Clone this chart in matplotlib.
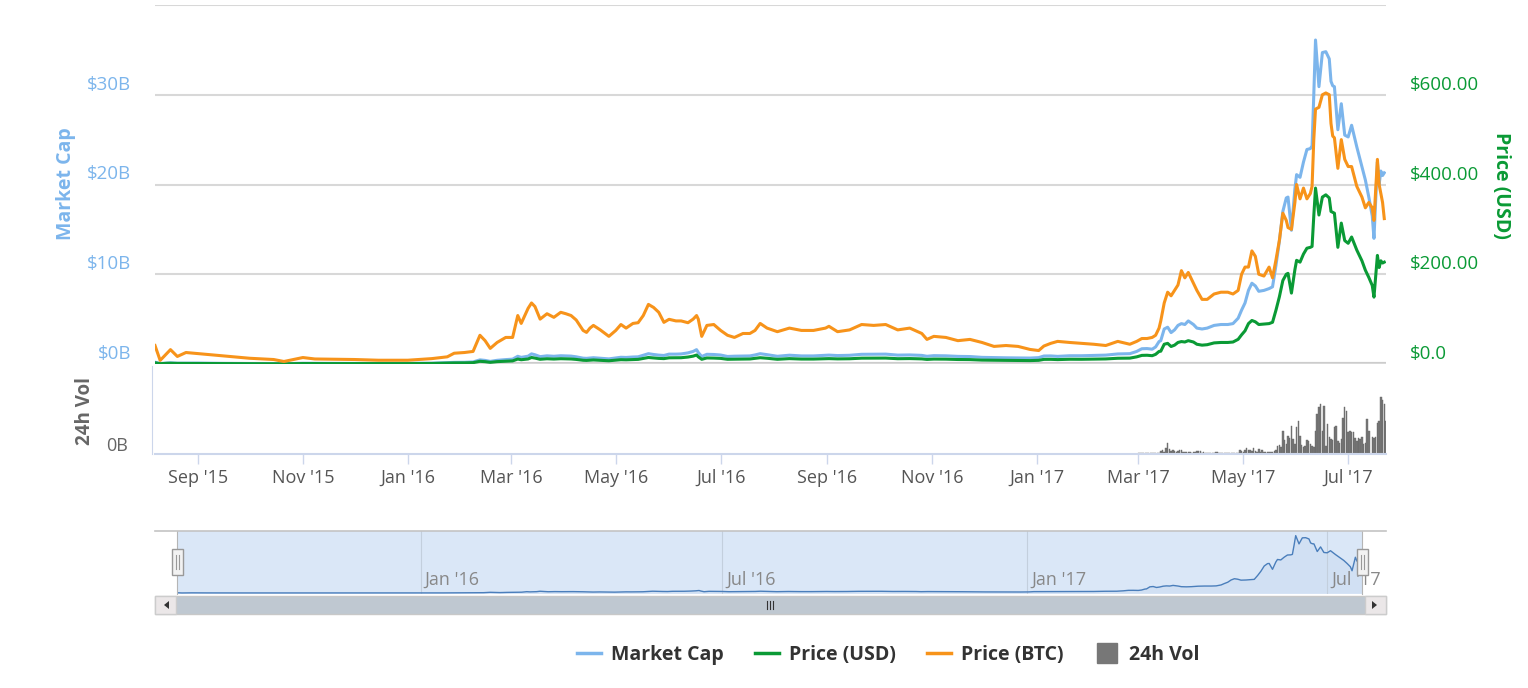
import numpy as np
import pandas as pd
import matplotlib
matplotlib.use("Agg")
import matplotlib.pyplot as plt
import matplotlib.dates as mdates
from matplotlib.lines import Line2D
from matplotlib.patches import Rectangle, Polygon
from matplotlib.transforms import ScaledTranslation

plt.rcParams['font.family'] = ['Open Sans', 'DejaVu Sans']

# ---- data (ETH, Aug 2015 - Jul 2017) ----
dates = [
    "2015-08-07", "2015-08-10", "2015-08-14", "2015-08-16", "2015-08-20", "2015-08-25",
    "2015-09-01", "2015-09-15", "2015-10-01", "2015-10-15", "2015-10-21", "2015-11-01",
    "2015-11-08", "2015-11-15", "2015-12-01", "2015-12-15", "2016-01-01", "2016-01-15",
    "2016-01-24", "2016-01-28", "2016-02-03", "2016-02-08", "2016-02-12", "2016-02-15",
    "2016-02-18", "2016-02-22", "2016-02-27", "2016-03-02", "2016-03-05", "2016-03-07",
    "2016-03-11", "2016-03-13", "2016-03-15", "2016-03-18", "2016-03-22", "2016-03-26",
    "2016-03-30", "2016-04-02", "2016-04-05", "2016-04-08", "2016-04-12", "2016-04-14",
    "2016-04-16", "2016-04-18", "2016-04-22", "2016-04-27", "2016-05-01", "2016-05-04",
    "2016-05-07", "2016-05-11", "2016-05-14", "2016-05-17", "2016-05-20", "2016-05-23",
    "2016-05-26", "2016-05-29", "2016-06-01", "2016-06-05", "2016-06-08", "2016-06-12",
    "2016-06-15", "2016-06-17", "2016-06-18", "2016-06-20", "2016-06-23", "2016-06-27",
    "2016-07-01", "2016-07-05", "2016-07-09", "2016-07-14", "2016-07-18", "2016-07-21",
    "2016-07-24", "2016-07-28", "2016-08-03", "2016-08-10", "2016-08-17", "2016-08-24",
    "2016-08-31", "2016-09-02", "2016-09-07", "2016-09-14", "2016-09-21", "2016-09-28",
    "2016-10-05", "2016-10-12", "2016-10-19", "2016-10-26", "2016-10-29", "2016-11-02",
    "2016-11-09", "2016-11-16", "2016-11-23", "2016-11-30", "2016-12-07", "2016-12-14",
    "2016-12-21", "2016-12-28", "2017-01-02", "2017-01-05", "2017-01-09", "2017-01-13",
    "2017-01-20", "2017-01-27", "2017-02-03", "2017-02-10", "2017-02-17", "2017-02-24",
    "2017-02-28", "2017-03-03", "2017-03-06", "2017-03-09", "2017-03-11", "2017-03-13",
    "2017-03-14", "2017-03-16", "2017-03-18", "2017-03-20", "2017-03-22", "2017-03-24",
    "2017-03-26", "2017-03-28", "2017-03-30", "2017-04-02", "2017-04-04", "2017-04-07",
    "2017-04-10", "2017-04-14", "2017-04-18", "2017-04-22", "2017-04-25", "2017-04-28",
    "2017-04-30", "2017-05-02", "2017-05-04", "2017-05-06", "2017-05-08", "2017-05-10",
    "2017-05-13", "2017-05-16", "2017-05-18", "2017-05-20", "2017-05-22", "2017-05-24",
    "2017-05-26", "2017-05-27", "2017-05-29", "2017-05-31", "2017-06-01", "2017-06-03",
    "2017-06-05", "2017-06-07", "2017-06-09", "2017-06-10", "2017-06-11", "2017-06-12",
    "2017-06-14", "2017-06-16", "2017-06-18", "2017-06-20", "2017-06-21", "2017-06-22",
    "2017-06-23", "2017-06-25", "2017-06-27", "2017-06-29", "2017-07-01", "2017-07-03",
    "2017-07-06", "2017-07-09", "2017-07-11", "2017-07-13", "2017-07-15", "2017-07-16",
    "2017-07-18", "2017-07-19", "2017-07-20", "2017-07-21", "2017-07-22",
]

# market cap, billions of USD
market_cap = [
    0.20, 0.05, 0.11, 0.13, 0.09, 0.09,
    0.10, 0.07, 0.05, 0.04, 0.03, 0.08,
    0.07, 0.07, 0.06, 0.07, 0.07, 0.09,
    0.16, 0.18, 0.19, 0.23, 0.46, 0.40,
    0.29, 0.41, 0.49, 0.54, 0.86, 0.74,
    0.87, 1.13, 1.03, 0.82, 0.91, 0.86,
    0.92, 0.90, 0.88, 0.80, 0.65, 0.63,
    0.66, 0.70, 0.64, 0.57, 0.67, 0.75,
    0.73, 0.78, 0.80, 0.98, 1.15, 1.06,
    0.99, 0.95, 1.10, 1.10, 1.12, 1.24,
    1.40, 1.60, 1.28, 0.84, 1.08, 1.06,
    1.00, 0.84, 0.87, 0.89, 0.90, 1.01,
    1.15, 1.04, 0.86, 0.98, 0.90, 0.90,
    0.97, 0.99, 0.94, 0.97, 1.08, 1.09,
    1.10, 0.99, 1.01, 0.96, 0.86, 0.93,
    0.91, 0.85, 0.83, 0.74, 0.71, 0.69,
    0.68, 0.66, 0.71, 0.89, 0.90, 0.85,
    0.92, 0.92, 0.96, 0.99, 1.12, 1.15,
    1.40, 1.70, 1.72, 1.65, 1.90, 2.50,
    2.60, 3.90, 4.10, 3.50, 3.80, 4.30,
    4.50, 4.40, 4.80, 4.40, 4.00, 3.90,
    4.00, 4.30, 4.40, 4.40, 4.50, 5.10,
    6.00, 6.80, 8.20, 9.00, 8.70, 8.10,
    8.20, 8.40, 8.60, 11.0, 13.7, 17.0,
    18.5, 18.6, 14.9, 19.5, 21.1, 20.8,
    22.5, 23.9, 24.0, 24.3, 30.0, 36.1,
    30.9, 34.7, 34.8, 34.0, 31.5, 31.0,
    30.9, 26.1, 29.0, 25.5, 25.3, 26.6,
    24.2, 22.0, 20.5, 18.6, 16.5, 14.0,
    22.5, 20.0, 21.5, 21.0, 21.3,
]

# price in USD
price_usd = [
    2.77, 0.70, 1.55, 1.70, 1.30, 1.25,
    1.35, 0.95, 0.73, 0.55, 0.43, 1.05,
    0.95, 0.90, 0.87, 0.93, 0.95, 1.20,
    2.10, 2.40, 2.50, 3.00, 6.00, 5.20,
    3.70, 5.30, 6.30, 6.90, 11.0, 9.50,
    11.2, 14.5, 13.2, 10.5, 11.7, 11.0,
    11.8, 11.6, 11.2, 10.2, 8.30, 8.00,
    8.40, 9.00, 8.20, 7.20, 8.50, 9.60,
    9.30, 10.0, 10.3, 12.5, 14.5, 13.5,
    12.5, 12.0, 13.8, 13.8, 14.0, 15.5,
    17.5, 20.0, 16.0, 10.5, 13.5, 13.2,
    12.5, 10.5, 10.8, 11.0, 11.2, 12.5,
    14.0, 12.8, 10.5, 12.0, 11.0, 11.0,
    11.8, 12.0, 11.4, 11.7, 13.0, 13.1,
    13.2, 11.8, 12.1, 11.4, 10.2, 11.0,
    10.8, 10.0, 9.80, 8.70, 8.30, 8.10,
    7.90, 7.60, 8.20, 10.3, 10.4, 9.80,
    10.6, 10.5, 11.0, 11.3, 12.8, 13.1,
    15.9, 19.2, 19.5, 18.5, 21.5, 28.0,
    28.5, 44.0, 46.0, 39.0, 42.0, 48.0,
    50.0, 49.0, 52.0, 49.0, 44.0, 42.0,
    43.0, 47.0, 48.0, 48.0, 49.0, 55.0,
    65.0, 74.0, 90.0, 97.0, 94.0, 88.0,
    89.0, 90.0, 93.0, 120, 150, 186,
    200, 202, 158, 210, 231, 227,
    245, 258, 260, 262, 330, 392,
    332, 372, 377, 370, 340, 338,
    336, 260, 314, 275, 269, 283,
    254, 230, 209, 193, 175, 149,
    242, 215, 230, 225, 227,
]

# price in BTC
price_btc = [
    0.0103, 0.0020, 0.0060, 0.0080, 0.0042, 0.0064,
    0.0058, 0.0046, 0.0032, 0.0025, 0.0014, 0.0036,
    0.0028, 0.0027, 0.0025, 0.0021, 0.0021, 0.0030,
    0.0040, 0.0060, 0.0064, 0.0070, 0.0160, 0.0130,
    0.0087, 0.0120, 0.0148, 0.0148, 0.0270, 0.0226,
    0.0310, 0.0340, 0.0320, 0.0250, 0.0280, 0.0260,
    0.0288, 0.0280, 0.0270, 0.0245, 0.0187, 0.0176,
    0.0200, 0.0215, 0.0190, 0.0154, 0.0187, 0.0220,
    0.0200, 0.0226, 0.0230, 0.0270, 0.0332, 0.0315,
    0.0288, 0.0232, 0.0249, 0.0240, 0.0240, 0.0230,
    0.0250, 0.0270, 0.0250, 0.0154, 0.0215, 0.0220,
    0.0187, 0.0160, 0.0148, 0.0170, 0.0170, 0.0187,
    0.0226, 0.0200, 0.0180, 0.0200, 0.0187, 0.0187,
    0.0200, 0.0210, 0.0180, 0.0190, 0.0220, 0.0215,
    0.0220, 0.0190, 0.0200, 0.0170, 0.0137, 0.0154,
    0.0148, 0.0130, 0.0137, 0.0120, 0.0098, 0.0103,
    0.0098, 0.0081, 0.0075, 0.0100, 0.0115, 0.0126,
    0.0120, 0.0115, 0.0110, 0.0103, 0.0126, 0.0110,
    0.0126, 0.0142, 0.0142, 0.0148, 0.0160, 0.0200,
    0.0240, 0.0340, 0.0400, 0.0380, 0.0410, 0.0440,
    0.0520, 0.0480, 0.0510, 0.0450, 0.0410, 0.0360,
    0.0360, 0.0390, 0.0400, 0.0400, 0.0390, 0.0410,
    0.0500, 0.0540, 0.0540, 0.0630, 0.0600, 0.0500,
    0.0490, 0.0540, 0.0480, 0.0580, 0.0690, 0.0840,
    0.0800, 0.0760, 0.0750, 0.0900, 0.1000, 0.0920,
    0.0980, 0.0920, 0.0950, 0.0990, 0.1250, 0.1420,
    0.1430, 0.1500, 0.1510, 0.1500, 0.1340, 0.1270,
    0.1260, 0.1090, 0.1250, 0.1140, 0.1100, 0.1100,
    0.0990, 0.0930, 0.0870, 0.0900, 0.0870, 0.0800,
    0.1140, 0.1000, 0.0950, 0.0900, 0.0810,
]

# 24h volume, billions of USD, one bar per day from vol_start
vol_start = "2017-03-01"
volume = [
    0.03, 0.03, 0.02, 0.03, 0.02, 0.03, 0.03, 0.02, 0.03, 0.03,
    0.04, 0.03, 0.04, 0.11, 0.15, 0.08, 0.23, 0.40, 0.19, 0.11,
    0.15, 0.11, 0.08, 0.11, 0.15, 0.15, 0.08, 0.08, 0.06, 0.08,
    0.06, 0.05, 0.08, 0.08, 0.11, 0.11, 0.11, 0.05, 0.08, 0.05,
    0.03, 0.03, 0.03, 0.03, 0.03, 0.08, 0.06, 0.03, 0.03, 0.03,
    0.03, 0.03, 0.03, 0.03, 0.03, 0.03, 0.03, 0.03, 0.04, 0.15,
    0.11, 0.08, 0.15, 0.23, 0.15, 0.15, 0.11, 0.23, 0.11, 0.08,
    0.19, 0.08, 0.15, 0.08, 0.08, 0.08, 0.06, 0.08, 0.08, 0.11,
    0.15, 0.30, 0.34, 0.26, 0.86, 0.53, 0.38, 0.68, 0.60, 1.05,
    0.56, 0.38, 1.01, 1.24, 0.68, 0.34, 0.26, 0.30, 0.53, 0.49,
    0.38, 0.30, 0.26, 0.86, 1.50, 1.76, 1.88, 0.86, 1.80, 0.30,
    1.13, 0.64, 0.56, 0.53, 1.01, 1.05, 0.49, 0.41, 0.56, 1.35,
    1.76, 1.61, 0.83, 0.86, 0.83, 0.83, 0.60, 0.49, 0.60, 0.56,
    0.64, 0.38, 0.41, 1.31, 0.86, 0.00, 0.64, 0.60, 0.64, 1.16,
    1.24, 2.14, 2.03, 1.88, 1.24,
]

mc_ticks = [0, 10, 20, 30]
mc_labels = ["$0B", "$10B", "$20B", "$30B"]
usd_ticks = [0, 200, 400, 600]
usd_labels = ["$0.0", "$200.00", "$400.00", "$600.00"]

C_MC = "#7cb5ec"
C_USD = "#0a9a35"
C_BTC = "#f7931a"
C_VOL = "#777777"
C_AXIS = "#ccd6eb"
C_GRID = "#d8d8d8"

d = pd.to_datetime(dates)
vd = pd.date_range(vol_start, periods=len(volume), freq="D")
xmin, xmax = pd.Timestamp("2015-08-07"), pd.Timestamp("2017-07-23")

W, H = 1528, 688


def box(l, t, r, b):
    return [l / W, 1 - b / H, (r - l) / W, (b - t) / H]


fig = plt.figure(figsize=(W / 100, H / 100), dpi=100)


def shifted(a, dx, dy):
    # y-axis transform nudged by a few pixels
    return a.get_yaxis_transform() + ScaledTranslation(dx / 100, dy / 100, fig.dpi_scale_trans)


# ---- main panel ----
ax = fig.add_axes(box(155, 5, 1386, 364))
ax.plot(d, market_cap, color=C_MC, lw=2.2, zorder=3)
ax.set_xlim(xmin, xmax)
ax.set_ylim(0, 40)
ax.set_yticks(mc_ticks + [40])
ax.yaxis.grid(True, color=C_GRID, lw=1.5)
ax.axhline(0, color="#cccccc", lw=3, zorder=1)
ax.tick_params(length=0, labelleft=False, labelbottom=False)
for s in ax.spines.values():
    s.set_visible(False)
for v, lab in zip(mc_ticks, mc_labels):
    ax.text(0, v, lab, transform=shifted(ax, -24, 10), ha="right", va="center",
            color=C_MC, fontsize=13.5)

ax2 = ax.twinx()
ax2.plot(d, price_usd, color=C_USD, lw=2.2)
ax2.set_ylim(0, 800)
ax2.tick_params(length=0, labelright=False)
ax2.set_yticks([])
for s in ax2.spines.values():
    s.set_visible(False)
for v, lab in zip(usd_ticks, usd_labels):
    ax2.text(1, v, lab, transform=shifted(ax2, 24, 10), ha="left", va="center",
             color=C_USD, fontsize=13.5)

ax3 = ax.twinx()
ax3.plot(d, price_btc, color=C_BTC, lw=2.2)
ax3.set_ylim(0, 0.2)
ax3.axis("off")

fig.text(66 / W, 1 - 184 / H, "Market Cap", rotation=90, color=C_MC,
         fontsize=14, fontweight="bold", ha="center", va="center")
fig.text(1501 / W, 1 - 185 / H, "Price (USD)", rotation=270, color=C_USD,
         fontsize=14, fontweight="bold", ha="center", va="center")

# ---- volume panel ----
axv = fig.add_axes(box(155, 366, 1386, 454))
axv.bar(vd, volume, width=0.85, color=C_VOL, edgecolor="#666666", lw=0.3)
axv.set_xlim(xmin, xmax)
axv.set_ylim(0, 3.3)
axv.set_yticks([])
axv.text(0, 0, "0B", transform=shifted(axv, -27, 8), ha="right", va="center",
         color="#666666", fontsize=13)
axv.spines["top"].set_visible(False)
axv.spines["right"].set_visible(False)
axv.spines["left"].set_color(C_AXIS)
axv.spines["left"].set_position(("outward", 2))
axv.spines["bottom"].set_color(C_AXIS)
axv.spines["bottom"].set_linewidth(1.5)
axv.xaxis.set_major_locator(mdates.MonthLocator(bymonth=[1, 3, 5, 7, 9, 11]))
axv.xaxis.set_major_formatter(mdates.DateFormatter("%b '%y"))
axv.tick_params(axis="x", colors=C_AXIS, length=7, width=1, pad=4,
                labelcolor="#555555", labelsize=13)
fig.text(85 / W, 1 - 411 / H, "24h Vol", rotation=90, color="#666666",
         fontsize=13.5, fontweight="bold", ha="center", va="center")

# ---- navigator ----
fig.add_artist(Line2D([155 / W, 1386 / W], [1 - 531 / H] * 2,
                      color="#c4c4c4", lw=1.2))
axn = fig.add_axes(box(177, 531, 1362, 594))
axn.set_facecolor("#dae7f7")
axn.plot(d, market_cap, color="#4a7ebb", lw=1.0)
axn.fill_between(d, market_cap, color="#4a7ebb", alpha=0.06, lw=0)
axn.set_xlim(d[0], d[-1])
axn.set_ylim(-0.6, 39)
nav_loc = mdates.MonthLocator(bymonth=[1, 7])
axn.xaxis.set_major_locator(nav_loc)
axn.xaxis.grid(True, color="#c3cfdd", lw=0.8)
axn.tick_params(length=0, labelbottom=False, labelleft=False)
for s in ["top", "bottom"]:
    axn.spines[s].set_visible(False)
for s in ["left", "right"]:
    axn.spines[s].set_color("#b5b5b5")
for t in nav_loc.tick_values(d[0], d[-1]):
    td = mdates.num2date(t).replace(tzinfo=None)
    if d[0] <= td <= d[-1]:
        axn.text(t, 0.22, td.strftime("%b '%y"), color="#888888",
                 fontsize=13, ha="left", va="center",
                 transform=axn.get_xaxis_transform()
                 + ScaledTranslation(4 / 100, 0, fig.dpi_scale_trans),
                 clip_on=False, zorder=1)

# handles
for hx in (177, 1362):
    fig.add_artist(Rectangle(((hx - 5.5) / W, 1 - 575 / H), 11 / W, 26 / H,
                             transform=fig.transFigure, facecolor="#f2f2f2",
                             edgecolor="#999999", lw=1, zorder=5))
    for gx in (hx - 1.5, hx + 1.5):
        fig.add_artist(Line2D([gx / W, gx / W], [1 - 555 / H, 1 - 569 / H],
                              color="#999999", lw=0.8, zorder=6))

# scrollbar
fig.add_artist(Rectangle((155 / W, 1 - 614 / H), 1231 / W, 18 / H,
                         transform=fig.transFigure, facecolor="#bfc8d1",
                         edgecolor="#c8c8c8", lw=1))
for bx, pts in ((155, [(169, 601), (169, 609), (164, 605)]),
                (1365, [(1372, 601), (1372, 609), (1377, 605)])):
    fig.add_artist(Rectangle((bx / W, 1 - 614 / H), 21 / W, 18 / H,
                             transform=fig.transFigure, facecolor="#ebe7e8",
                             edgecolor="#cccccc", lw=1))
    fig.add_artist(Polygon([(x / W, 1 - y / H) for x, y in pts], closed=True,
                           transform=fig.transFigure, facecolor="#333333",
                           edgecolor="none"))
for gx in (767, 770, 773):
    fig.add_artist(Line2D([gx / W, gx / W], [1 - 601 / H, 1 - 609 / H],
                          color="#333333", lw=0.8))

# ---- legend ----
handles = [
    Line2D([], [], color=C_MC, lw=2.5),
    Line2D([], [], color=C_USD, lw=2.5),
    Line2D([], [], color=C_BTC, lw=2.5),
    Line2D([], [], color=C_VOL, marker="s", linestyle="None", markersize=14),
]
fig.legend(handles, ["Market Cap", "Price (USD)", "Price (BTC)", "24h Vol"],
           loc="center", bbox_to_anchor=(888 / W, 1 - 655 / H), ncol=4,
           frameon=False, prop={"size": 14, "weight": "bold"},
           labelcolor="#333333", handlelength=1.25, handletextpad=0.5,
           columnspacing=1.6)

fig.savefig("out.png", dpi=100)
